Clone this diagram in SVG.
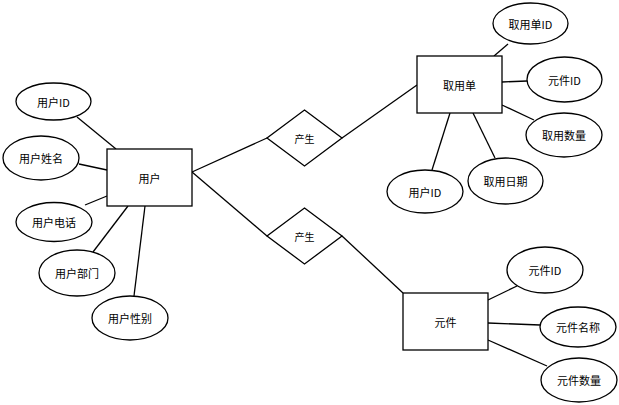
<svg xmlns="http://www.w3.org/2000/svg" width="619" height="405" viewBox="0 0 619 405">
<style>
.s{fill:#fff;stroke:#000;stroke-width:1.3}
.l{stroke:#000;stroke-width:1.3;fill:none}
text{font-family:"Noto Sans CJK SC","Liberation Sans",sans-serif;font-size:11px;fill:#000;text-anchor:middle;dominant-baseline:central}
.r{font-size:10px}
</style>
<rect width="619" height="405" fill="#fff"/>
<g id="connectors">
<line class="l" x1="77" y1="117" x2="116" y2="149"/>
<line class="l" x1="79" y1="164" x2="107" y2="170"/>
<line class="l" x1="85" y1="205" x2="107" y2="196"/>
<line class="l" x1="93" y1="252" x2="128" y2="206"/>
<line class="l" x1="134" y1="296" x2="145" y2="206"/>
<line class="l" x1="192" y1="172" x2="267" y2="138"/>
<line class="l" x1="192" y1="172" x2="267" y2="236"/>
<line class="l" x1="342" y1="138" x2="417" y2="85"/>
<line class="l" x1="342" y1="236" x2="403" y2="293"/>
<line class="l" x1="494" y1="56" x2="508" y2="44"/>
<line class="l" x1="502" y1="82" x2="527" y2="81"/>
<line class="l" x1="502" y1="105" x2="534" y2="120"/>
<line class="l" x1="473" y1="113" x2="495" y2="158"/>
<line class="l" x1="450" y1="113" x2="432" y2="170"/>
<line class="l" x1="488" y1="300" x2="517" y2="286"/>
<line class="l" x1="488" y1="323" x2="540" y2="325"/>
<line class="l" x1="488" y1="340" x2="547" y2="366"/>
</g>
<g id="user"><rect class="s" x="107" y="149" width="85" height="57"/><text x="149.5" y="177.5">用户</text></g>
<g id="user-id"><ellipse class="s" cx="53.5" cy="101.5" rx="37.5" ry="18.5"/><text x="53.5" y="101.5">用户ID</text></g>
<g id="user-name"><ellipse class="s" cx="41" cy="158" rx="38" ry="22"/><text x="41" y="158">用户姓名</text></g>
<g id="user-phone"><ellipse class="s" cx="54" cy="222" rx="38" ry="19.5"/><text x="54" y="222">用户电话</text></g>
<g id="user-dept"><ellipse class="s" cx="77" cy="273" rx="38" ry="23"/><text x="77" y="273">用户部门</text></g>
<g id="user-gender"><ellipse class="s" cx="130" cy="318" rx="38" ry="22"/><text x="130" y="318">用户性别</text></g>
<g id="rel1"><polygon class="s" points="304.5,110 342,138 304.5,166 267,138"/><text class="r" x="304.5" y="138">产生</text></g>
<g id="rel2"><polygon class="s" points="304.5,208 342,236 304.5,264 267,236"/><text class="r" x="304.5" y="236">产生</text></g>
<g id="order"><rect class="s" x="417" y="56" width="85" height="57"/><text x="459.5" y="84.5">取用单</text></g>
<g id="order-id"><ellipse class="s" cx="530.5" cy="23.5" rx="37.5" ry="20.5"/><text x="530.5" y="23.5">取用单ID</text></g>
<g id="order-part-id"><ellipse class="s" cx="564.5" cy="79.5" rx="37.5" ry="22.5"/><text x="564.5" y="79.5">元件ID</text></g>
<g id="order-qty"><ellipse class="s" cx="564" cy="135" rx="38" ry="22"/><text x="564" y="135">取用数量</text></g>
<g id="order-date"><ellipse class="s" cx="505.5" cy="181" rx="37.5" ry="23"/><text x="505.5" y="181">取用日期</text></g>
<g id="order-user-id"><ellipse class="s" cx="425" cy="191.5" rx="38" ry="21.5"/><text x="425" y="191.5">用户ID</text></g>
<g id="part"><rect class="s" x="403" y="293" width="85" height="57"/><text x="445.5" y="321.5">元件</text></g>
<g id="part-id"><ellipse class="s" cx="545" cy="270" rx="38" ry="23"/><text x="545" y="270">元件ID</text></g>
<g id="part-name"><ellipse class="s" cx="578" cy="327" rx="38" ry="20"/><text x="578" y="327">元件名称</text></g>
<g id="part-qty"><ellipse class="s" cx="579" cy="380" rx="38" ry="22"/><text x="579" y="380">元件数量</text></g>
</svg>
